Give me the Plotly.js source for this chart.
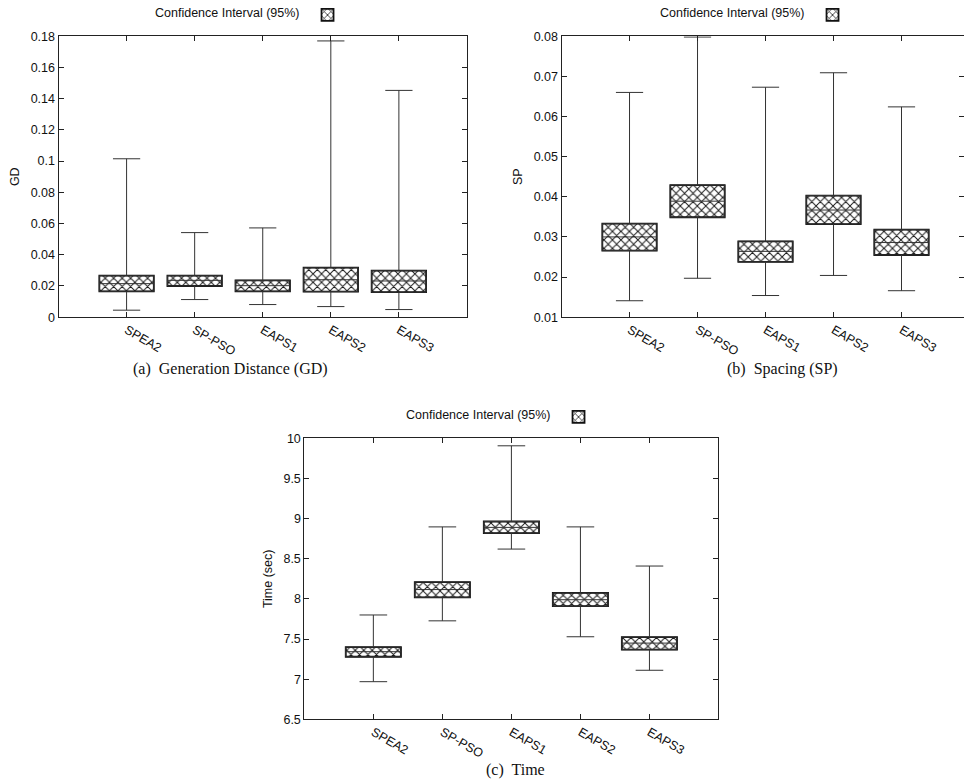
<!DOCTYPE html>
<html>
<head>
<meta charset="utf-8">
<script src="https://cdn.plot.ly/plotly-3.0.1.min.js"></script>
<style>html,body{margin:0;padding:0;background:#fff;}#chart{width:964px;height:782px;}</style>
</head>
<body>
<div id="chart"></div>
<script>
const categories = ["SPEA2", "SP-PSO", "EAPS1", "EAPS2", "EAPS3"];

// (a) Generation Distance
const gdMin    = [0.0045, 0.0113, 0.0081, 0.0068, 0.0049];
const gdQ1     = [0.0166, 0.0200, 0.0166, 0.0164, 0.0160];
const gdMedian = [0.0215, 0.0236, 0.0202, 0.0240, 0.0232];
const gdQ3     = [0.0266, 0.0266, 0.0236, 0.0317, 0.0298];
const gdMax    = [0.1015, 0.0542, 0.0572, 0.1770, 0.1453];

// (b) Spacing
const spMin    = [0.0141, 0.0197, 0.0154, 0.0204, 0.0166];
const spQ1     = [0.0266, 0.0349, 0.0238, 0.0332, 0.0255];
const spMedian = [0.0300, 0.0389, 0.0264, 0.0367, 0.0286];
const spQ3     = [0.0333, 0.0429, 0.0289, 0.0403, 0.0318];
const spMax    = [0.0660, 0.0798, 0.0673, 0.0709, 0.0624];

// (c) Time
const tMin     = [6.97, 7.727, 8.62, 7.529, 7.112];
const tQ1      = [7.28, 8.02, 8.818, 7.909, 7.368];
const tMedian  = [7.343, 8.116, 8.89, 7.99, 7.45];
const tQ3      = [7.40, 8.21, 8.963, 8.074, 7.525];
const tMax     = [7.80, 8.896, 9.905, 8.896, 8.409];

const legendTitle = "Confidence Interval (95%)";
const subTitles = ["(a)  Generation Distance (GD)", "(b)  Spacing (SP)", "(c)  Time"];
const yTitles = ["GD", "SP", "Time (sec)"];

const sans = "Liberation Sans, Arial, Helvetica, sans-serif";
const serif = "Liberation Serif, Times New Roman, serif";

function makeTraces(mn, q1, med, q3, mx, xa, ya, lg) {
  const diff = q3.map((v, i) => v - q1[i]);
  const bar = {
    type: "bar", x: categories, y: diff, base: q1, width: 0.8,
    xaxis: xa, yaxis: ya, name: "", legend: lg, showlegend: true,
    marker: {
      color: "#ffffff",
      line: {color: "#111", width: 1.8},
      pattern: {shape: "x", fgcolor: "#1a1a1a", bgcolor: "#ffffff", size: 6, solidity: 0.3}
    },
    hoverinfo: "skip"
  };
  const box = {
    type: "box", x: categories, q1: q1, median: med, q3: q3,
    lowerfence: mn, upperfence: mx, width: 0.8, whiskerwidth: 0.5,
    boxpoints: false, xaxis: xa, yaxis: ya, showlegend: false,
    fillcolor: "rgba(0,0,0,0)", line: {color: "#333", width: 1}
  };
  return [bar, box];
}

const data = [
  ...makeTraces(gdMin, gdQ1, gdMedian, gdQ3, gdMax, "x", "y", "legend"),
  ...makeTraces(spMin, spQ1, spMedian, spQ3, spMax, "x2", "y2", "legend2"),
  ...makeTraces(tMin, tQ1, tMedian, tQ3, tMax, "x3", "y3", "legend3")
];

function xax(domain, range) {
  return {
    domain: domain, range: range, type: "category",
    showline: true, linecolor: "#222", linewidth: 1, mirror: "ticks",
    ticks: "inside", ticklen: 5, tickcolor: "#222", tickangle: 30,
    tickfont: {family: sans, size: 12.5, color: "#111"},
    showgrid: false, zeroline: false, fixedrange: true
  };
}
function yax(domain, range, dtick, title, anchor) {
  return {
    domain: domain, range: range, dtick: dtick, anchor: anchor,
    showline: true, linecolor: "#222", linewidth: 1, mirror: "ticks",
    ticks: "inside", ticklen: 5, tickcolor: "#222",
    tickfont: {family: sans, size: 12.5, color: "#111"},
    title: {text: title, font: {family: sans, size: 12.5, color: "#111"}, standoff: 8},
    showgrid: false, zeroline: false, fixedrange: true
  };
}
function leg(x, y) {
  return {
    x: x, y: y, xanchor: "left", yanchor: "middle", orientation: "h",
    bgcolor: "rgba(0,0,0,0)", borderwidth: 0,
    title: {text: legendTitle, side: "left", font: {family: sans, size: 12.5, color: "#111"}},
    font: {family: sans, size: 12}, itemwidth: 30
  };
}

const layout = {
  width: 964, height: 782,
  margin: {l: 0, r: 0, t: 0, b: 0},
  paper_bgcolor: "#fff", plot_bgcolor: "#fff",
  barmode: "overlay", boxmode: "overlay",
  xaxis:  Object.assign(xax([0.0607, 0.4844], [-1, 5]), {anchor: "y"}),
  yaxis:  yax([0.5959, 0.9561], [0, 0.18], 0.02, yTitles[0], "x"),
  xaxis2: Object.assign(xax([0.5825, 1.0], [-1, 4.919]), {anchor: "y2"}),
  yaxis2: yax([0.5959, 0.9561], [0.01, 0.08], 0.01, yTitles[1], "x2"),
  xaxis3: Object.assign(xax([0.3157, 0.7453], [-1, 5]), {anchor: "y3"}),
  yaxis3: yax([0.0802, 0.4408], [6.5, 10], 0.5, yTitles[2], "x3"),
  legend:  leg(153/964, 1 - 13/782),
  legend2: leg(658/964, 1 - 13/782),
  legend3: leg(404/964, 1 - 416/782),
  annotations: [
    {text: subTitles[0], x: 230/964, y: 1 - 368/782, xref: "paper", yref: "paper", showarrow: false,
     font: {family: serif, size: 16, color: "#111"}, xanchor: "center", yanchor: "middle"},
    {text: subTitles[1], x: 782/964, y: 1 - 368/782, xref: "paper", yref: "paper", showarrow: false,
     font: {family: serif, size: 16, color: "#111"}, xanchor: "center", yanchor: "middle"},
    {text: subTitles[2], x: 515/964, y: 1 - 770/782, xref: "paper", yref: "paper", showarrow: false,
     font: {family: serif, size: 16, color: "#111"}, xanchor: "center", yanchor: "middle"}
  ]
};

Plotly.newPlot("chart", data, layout, {staticPlot: true, displayModeBar: false});
</script>
</body>
</html>
